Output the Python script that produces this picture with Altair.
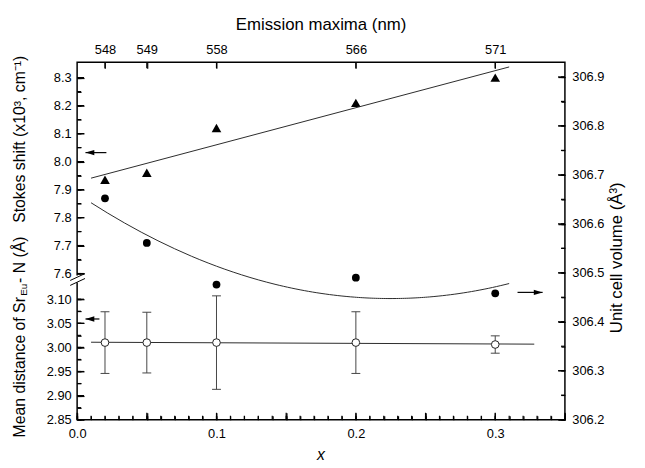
import altair as alt
import pandas as pd

# ---------------- data ----------------
x_vals = [0.02, 0.05, 0.10, 0.20, 0.30]
stokes_shift = [7.935, 7.96, 8.12, 8.21, 8.30]            # x10^3 cm^-1
mean_distance = [3.010, 3.010, 3.010, 3.010, 3.006]       # Angstrom
distance_err = [0.064, 0.063, 0.097, 0.064, 0.018]
cell_volume = [306.652, 306.561, 306.476, 306.490, 306.458]  # Angstrom^3
emission_labels = ["548", "549", "558", "566", "571"]

# arrows: tail x, head x, level
arrow_stokes = {"tail": [0.021], "head": [0.006], "level": [8.032]}
arrow_dist = {"tail": [0.016], "head": [0.006], "level": [3.059]}
arrow_vol = {"tail": [0.316], "head": [0.334], "level": [306.46]}

# tick values
x_labels = [0.0, 0.1, 0.2, 0.3]
x_major = [0.0, 0.05, 0.10, 0.15, 0.20, 0.25, 0.30, 0.35]
x_minor = [round(0.01 * i, 2) for i in range(36)]
stokes_ticks = [7.6, 7.7, 7.8, 7.9, 8.0, 8.1, 8.2, 8.3]
stokes_minor = [round(7.6 + 0.05 * i, 2) for i in range(15)]
dist_ticks = [2.85, 2.90, 2.95, 3.00, 3.05, 3.10]
dist_minor = [round(2.85 + 0.025 * i, 3) for i in range(11)]
vol_ticks = [306.2, 306.3, 306.4, 306.5, 306.6, 306.7, 306.8, 306.9]
vol_minor = [round(306.2 + 0.05 * i, 2) for i in range(15)]

df = pd.DataFrame({"x": x_vals, "stokes": stokes_shift, "dist": mean_distance,
                   "err": distance_err, "vol": cell_volume})

W, H = 494, 362
FONT = "Liberation Sans"
LINE = "#2a2a2a"

XS = alt.Scale(domain=[0.0, 0.35], nice=False, zero=False)
SS = alt.Scale(domain=[7.6, 8.3549], range=[214, 0], nice=False, zero=False)
DS = alt.Scale(domain=[2.85, 3.10], range=[H, 240], nice=False, zero=False)
VS = alt.Scale(domain=[306.2, 306.93], range=[H, 0], nice=False, zero=False)

LEFT_HEAD = "M 0 0 L 2 -0.6 L 2 0.6 Z"
RIGHT_HEAD = "M 0 0 L -2 -0.6 L -2 0.6 Z"


def labels_axis(orient, values, pad, fmt=None, expr=None):
    kw = dict(orient=orient, values=values, ticks=False, domain=False, grid=False,
              labelPadding=pad, labelFont=FONT, labelFontSize=13, labelColor="black",
              labelFlush=False, labelOverlap=False, title=None)
    if fmt:
        kw["format"] = fmt
    if expr:
        kw["labelExpr"] = expr
    return alt.Axis(**kw)


def edge_axis(orient, values, length):
    # inward ticks: a grid line dashed so only its first `length` px show
    return alt.Axis(orient=orient, values=values, labels=False, ticks=False, domain=False,
                    grid=True, gridDash=[length, 3000], gridColor="black", gridWidth=1.2,
                    gridOpacity=1, title=None)


def yticks(values, scale, orient, length):
    x0, x1 = (0, length) if orient == "left" else (W, W - length)
    return alt.Chart(pd.DataFrame({"v": values})).mark_rule(color="black", strokeWidth=1.2).encode(
        x=alt.value(x0), x2=alt.value(x1),
        y=alt.Y("v:Q", scale=scale, axis=edge_axis(orient, values, length)))


def xticks(values, orient, length):
    y0, y1 = (H, H - length) if orient == "bottom" else (0, length)
    return alt.Chart(pd.DataFrame({"v": values})).mark_rule(color="black", strokeWidth=1.2).encode(
        x=alt.X("v:Q", scale=XS, axis=edge_axis(orient, values, length)),
        y=alt.value(y0), y2=alt.value(y1))


tick_layers = [
    yticks(stokes_ticks, SS, "left", 7), yticks(stokes_minor, SS, "left", 4),
    yticks(dist_ticks, DS, "left", 7), yticks(dist_minor, DS, "left", 4),
    yticks(vol_ticks, VS, "right", 7), yticks(vol_minor, VS, "right", 4),
    xticks(x_major, "bottom", 7), xticks(x_minor, "bottom", 4),
    xticks(x_vals, "top", 6),
]

top_expr = "''"
for xv, lab in reversed(list(zip(x_vals, emission_labels))):
    top_expr = f"abs(datum.value - {xv}) < 0.001 ? '{lab}' : ({top_expr})"

base = alt.Chart(df)

# ---- Stokes shift (upper left scale) ----
tri = base.mark_point(shape="triangle-up", filled=True, color="black", size=95, opacity=1).encode(
    x=alt.X("x:Q", scale=XS, axis=labels_axis("bottom", x_labels, 8, fmt=".1f")),
    y=alt.Y("stokes:Q", scale=SS, axis=labels_axis("left", stokes_ticks, 6, fmt=".1f")))

stokes_fit = base.transform_regression("x", "stokes", method="linear", extent=[0.01, 0.31]).mark_line(
    color=LINE, strokeWidth=1).encode(
    x=alt.X("x:Q", scale=XS, axis=None),
    y=alt.Y("stokes:Q", scale=SS, axis=None))

a_s = alt.Chart(pd.DataFrame(arrow_stokes))
shaft_s = a_s.mark_rule(color="black", strokeWidth=1.2).encode(
    x=alt.X("tail:Q", scale=XS, axis=None), x2="head:Q",
    y=alt.Y("level:Q", scale=SS, axis=None))
head_s = a_s.mark_point(shape=LEFT_HEAD, filled=True, color="black", size=80, opacity=1).encode(
    x=alt.X("head:Q", scale=XS, axis=None), y=alt.Y("level:Q", scale=SS, axis=None))

# ---- Mean distance (lower left scale) ----
errb = base.transform_calculate(lo="datum.dist - datum.err", hi="datum.dist + datum.err")
err_rule = errb.mark_rule(color="#444", strokeWidth=1).encode(
    x=alt.X("x:Q", scale=XS, axis=labels_axis("top", x_vals, 6, expr=top_expr)),
    y=alt.Y("lo:Q", scale=DS, axis=labels_axis("left", dist_ticks, 6, fmt=".2f")),
    y2="hi:Q")
cap_lo = errb.mark_tick(orient="horizontal", size=9, thickness=1, color="#444", opacity=1).encode(
    x=alt.X("x:Q", scale=XS, axis=None),
    y=alt.Y("lo:Q", scale=DS, axis=None))
cap_hi = errb.mark_tick(orient="horizontal", size=9, thickness=1, color="#444", opacity=1).encode(
    x=alt.X("x:Q", scale=XS, axis=None),
    y=alt.Y("hi:Q", scale=DS, axis=None))
dist_fit = base.transform_regression("x", "dist", method="linear", extent=[0.01, 0.328]).mark_line(
    color=LINE, strokeWidth=1).encode(
    x=alt.X("x:Q", scale=XS, axis=None), y=alt.Y("dist:Q", scale=DS, axis=None))
dist_pts = base.mark_point(shape="circle", filled=True, fill="white", stroke="#222",
                           strokeWidth=1, size=60, opacity=1).encode(
    x=alt.X("x:Q", scale=XS, axis=None), y=alt.Y("dist:Q", scale=DS, axis=None))
a_d = alt.Chart(pd.DataFrame(arrow_dist))
shaft_d = a_d.mark_rule(color="black", strokeWidth=1.2).encode(
    x=alt.X("tail:Q", scale=XS, axis=None), x2="head:Q",
    y=alt.Y("level:Q", scale=DS, axis=None))
head_d = a_d.mark_point(shape=LEFT_HEAD, filled=True, color="black", size=80, opacity=1).encode(
    x=alt.X("head:Q", scale=XS, axis=None), y=alt.Y("level:Q", scale=DS, axis=None))

# ---- Unit cell volume (right scale) ----
vol_pts = base.mark_point(shape="circle", filled=True, color="black", size=62, opacity=1).encode(
    x=alt.X("x:Q", scale=XS, axis=None),
    y=alt.Y("vol:Q", scale=VS, axis=labels_axis("right", vol_ticks, 7, fmt=".1f")))
vol_fit = base.transform_regression("x", "vol", method="poly", order=2, extent=[0.01, 0.31]).mark_line(
    color=LINE, strokeWidth=1).encode(
    x=alt.X("x:Q", scale=XS, axis=None),
    y=alt.Y("vol:Q", scale=VS, axis=None))
a_v = alt.Chart(pd.DataFrame(arrow_vol))
shaft_v = a_v.mark_rule(color="black", strokeWidth=1.2).encode(
    x=alt.X("tail:Q", scale=XS, axis=None), x2="head:Q",
    y=alt.Y("level:Q", scale=VS, axis=None))
head_v = a_v.mark_point(shape=RIGHT_HEAD, filled=True, color="black", size=80, opacity=1).encode(
    x=alt.X("head:Q", scale=XS, axis=None), y=alt.Y("level:Q", scale=VS, axis=None))


# ---- titles and axis break ----
def label(text, x, y, size=16, angle=0, align="center", style="normal"):
    return alt.Chart(pd.DataFrame({"t": [text]})).mark_text(
        font=FONT, fontSize=size, angle=angle, align=align, baseline="middle",
        color="black", fontStyle=style).encode(x=alt.value(x), y=alt.value(y), text="t:N")


titles = [
    label("Emission maxima (nm)", W / 2, -38, size=17),
    label("x", W / 2, 398, size=16, style="italic"),
    label("Stokes shift (x10³, cm⁻¹)", -58, 78, angle=270),
    label("Mean distance of Sr", -58, 380, angle=270, align="left"),
    label("Eu", -54, 236.5, size=10, angle=270, align="left"),
    label(" - N (Å)", -58, 223.5, angle=270, align="left"),
    label("Unit cell volume (Å³)", W + 53, 198, size=17, angle=270),
]

brk = alt.Chart(pd.DataFrame({"a": [0]}))
gap = brk.mark_rect(color="white").encode(x=alt.value(-2), x2=alt.value(2),
                                          y=alt.value(216), y2=alt.value(223))
slash1 = brk.mark_rule(color="black", strokeWidth=1).encode(
    x=alt.value(-7), x2=alt.value(8), y=alt.value(221), y2=alt.value(214))
slash2 = brk.mark_rule(color="black", strokeWidth=1).encode(
    x=alt.value(-7), x2=alt.value(8), y=alt.value(226), y2=alt.value(219))

chart = alt.layer(
    tri, stokes_fit, shaft_s, head_s,
    err_rule, cap_lo, cap_hi, dist_fit, dist_pts, shaft_d, head_d,
    vol_fit, vol_pts, shaft_v, head_v,
    gap, slash1, slash2, *titles,
    *tick_layers,
).resolve_scale(y="independent").resolve_axis(x="independent", y="independent").properties(
    width=W, height=H,
    autosize=alt.AutoSizeParams(type="none"),
    padding={"left": 70, "top": 52, "right": 73, "bottom": 46},
).configure_view(stroke="black", strokeWidth=1.5)

chart.save("out.html", embed_options={"renderer": "svg", "actions": False})
